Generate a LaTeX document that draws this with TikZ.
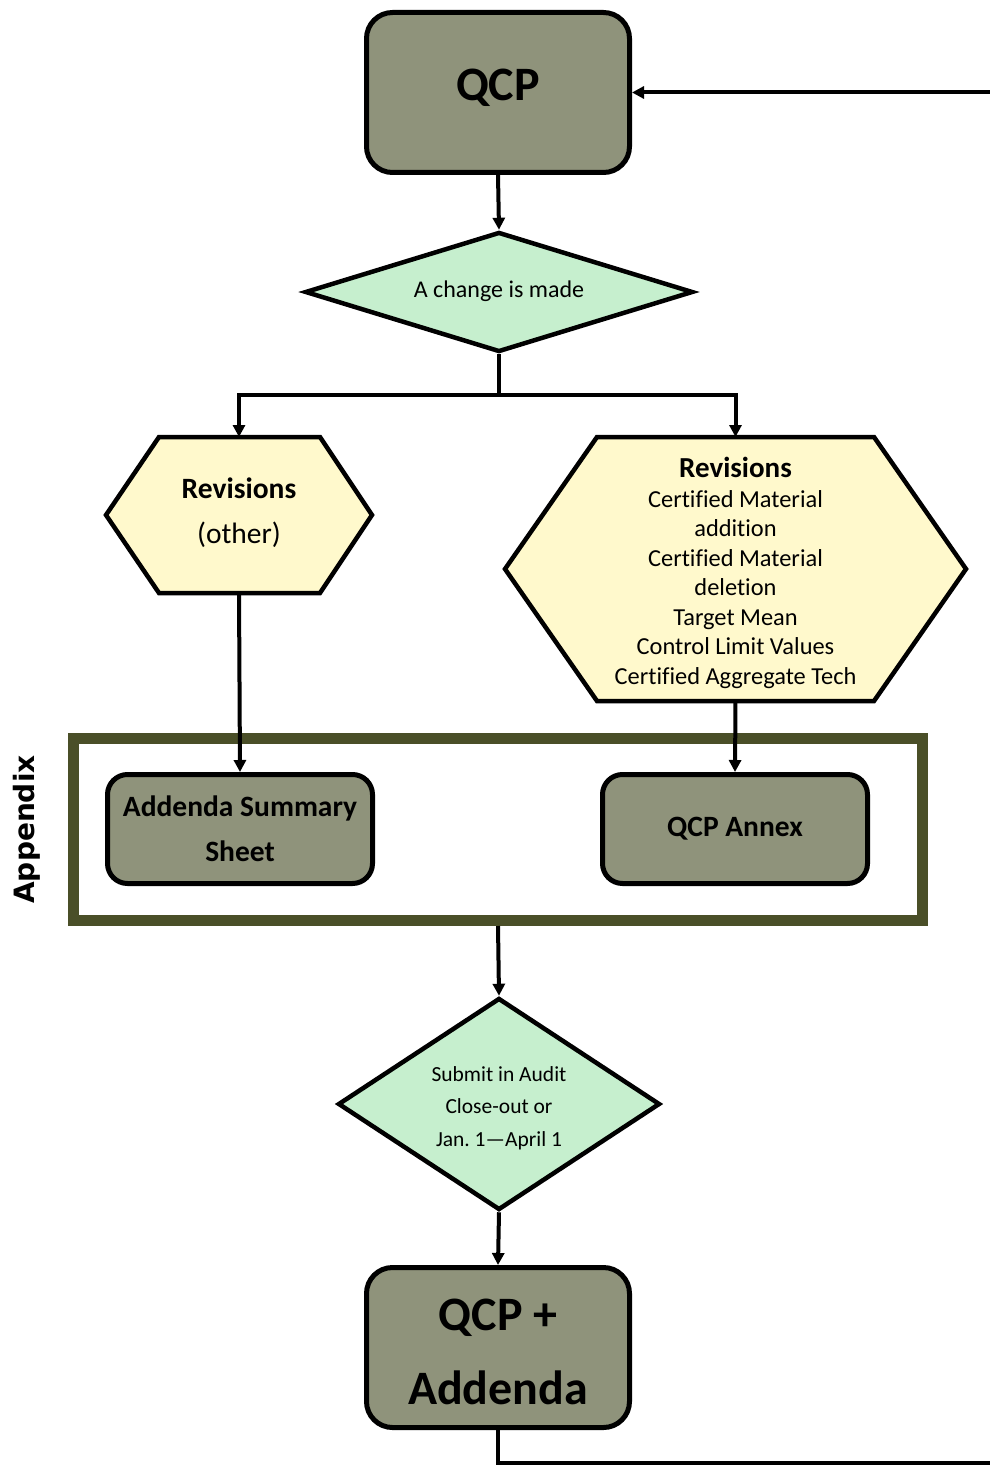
\documentclass[tikz,border=0pt]{standalone}
\usepackage{fontspec}
\setmainfont{Carlito}[Ligatures=NoCommon]
\newfontfamily\appfont{DejaVu Sans}
\usetikzlibrary{shapes.geometric,arrows.meta}
\definecolor{boxfill}{HTML}{8F937B}
\definecolor{framecol}{HTML}{4A4F28}
\definecolor{decfill}{HTML}{C6EFCE}
\definecolor{hexfill}{HTML}{FFF9CC}
\frenchspacing
\begin{document}
\begin{tikzpicture}[x=1pt,y=-1pt,
  box/.style={draw,line width=5pt,fill=boxfill,rounded corners=26pt,inner sep=0pt,align=center,minimum width=263pt,minimum height=160pt},
  smallbox/.style={box,minimum width=265pt,minimum height=109pt,rounded corners=20pt,font=\bfseries\fontsize{29.5}{45}\selectfont},
  dec/.style={draw,diamond,line width=4.5pt,fill=decfill,inner sep=0pt,align=center},
  hexa/.style={draw,line width=4.5pt,fill=hexfill,line join=miter},
  lbl/.style={align=center,inner sep=0pt},
  conn/.style={line width=4pt},
  arr/.style={conn,-{Triangle[length=12pt,width=12pt]}},
]
\useasboundingbox (0,0) rectangle (989,1466);

% top box
\node[box] (qcp) at (498,92.5) {};
\node[lbl,font=\bfseries\fontsize{48}{58}\selectfont] (qcpt) at (498,88) {QCP};

% first decision
\node[dec,aspect=3.23,minimum width=388pt,minimum height=120pt] (d1) at (499,292) {};
\node[lbl,font=\fontsize{24}{29}\selectfont] (d1t) at (499,291) {A change is made};

% left hexagon
\draw[hexa] (106,515) -- (159,437) -- (320,437) -- (372,515) -- (320,593) -- (159,593) -- cycle;
\node[lbl,font=\fontsize{29.5}{45}\selectfont] (revL) at (239,513) {\textbf{Revisions}\\(other)};
\coordinate (revLtop) at (239,437);
\coordinate (revLbot) at (239,593);

% right hexagon
\draw[hexa] (505,569) -- (597,437) -- (874,437) -- (966,569) -- (874,701) -- (597,701) -- cycle;
\node[lbl,font=\fontsize{24.4}{29.5}\selectfont] (revR) at (735.5,573)
  {{\bfseries\fontsize{29}{31}\selectfont Revisions}\\Certified Material\\addition\\Certified Material\\deletion\\Target Mean\\Control Limit Values\\Certified Aggregate Tech};
\coordinate (revRtop) at (735.5,437);
\coordinate (revRbot) at (735.5,701);

% appendix frame
\node[draw=framecol,line width=11pt,inner sep=0pt,outer sep=0pt,minimum width=849pt,minimum height=182pt] (frame) at (498,829.5) {};
\node[rotate=90,font=\appfont\bfseries\fontsize{28}{33}\selectfont] (app) at (27,829.5) {Appendix};

\node[smallbox] (ass) at (240,829) {Addenda Summary\\Sheet};
\node[smallbox] (annex) at (735,829) {QCP Annex};

% second decision
\node[dec,aspect=1.52,minimum width=322pt,minimum height=212pt] (d2) at (499,1104) {};
\node[lbl,font=\fontsize{21.5}{32.5}\selectfont] (d2t) at (499,1108) {Submit in Audit\\Close-out or\\Jan. 1—April 1};

% bottom box
\node[box] (qa) at (498,1347.5) {};
\node[lbl,font=\bfseries\fontsize{48}{74}\selectfont] (qat) at (498,1352) {QCP +\\Addenda};

% connectors
\coordinate (split) at (499,395);
\coordinate (retB) at (995,1463);
\coordinate (retT) at (995,92.5);
\draw[arr] (qcp.south) -- (d1.north);
\draw[arr,line join=miter] (d1.south) -- (split) -| (revLtop);
\draw[arr,line join=miter] (split) -| (revRtop);
\draw[arr] (revLbot) -- (ass.north);
\draw[arr] (revRbot) -- (annex.north);
\draw[arr] ([yshift=-5.5pt]frame.south) -- (d2.north);
\draw[arr] (d2.south) -- (qa.north);
\draw[conn,line join=miter] (qa.south) |- (retB);
\draw[arr] (retT) -- (qcp.east);
\end{tikzpicture}
\end{document}
